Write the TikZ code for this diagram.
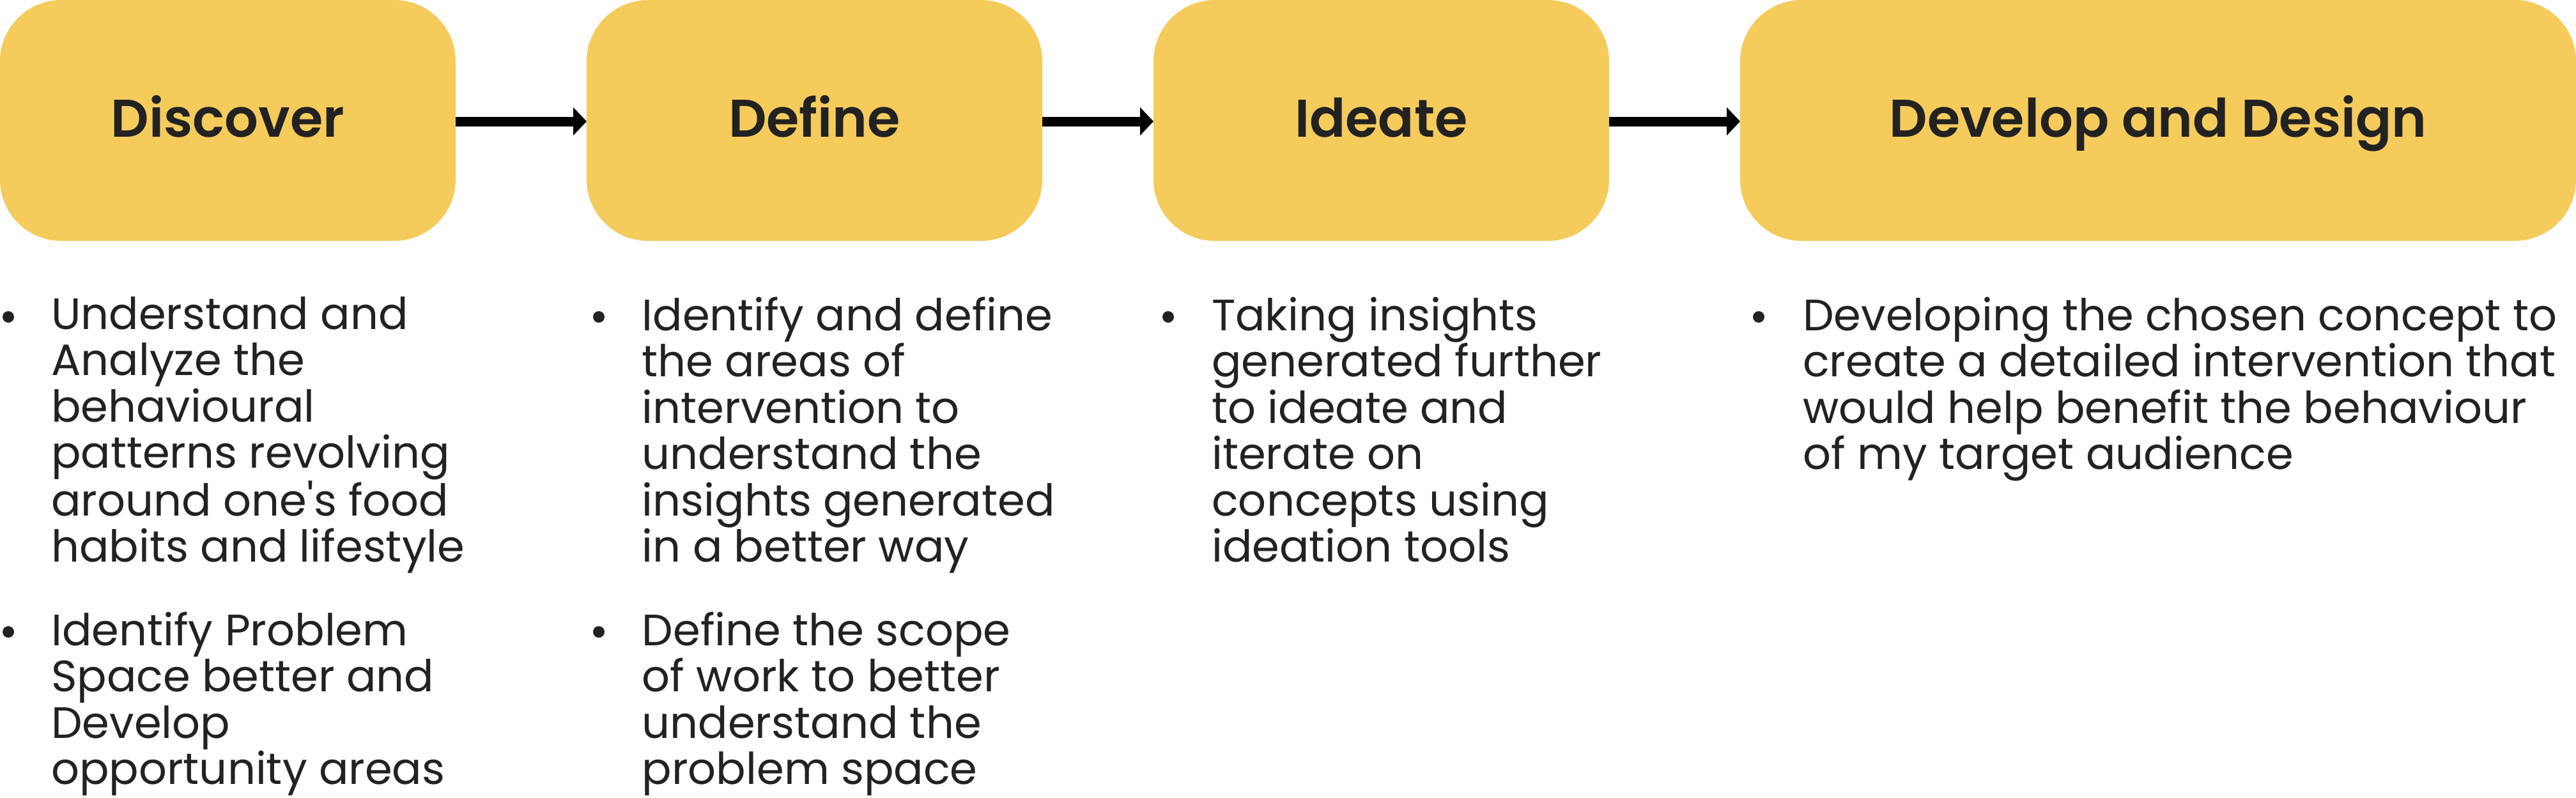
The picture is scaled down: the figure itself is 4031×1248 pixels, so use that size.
\documentclass[tikz,border=0pt]{standalone}
\usepackage{fontspec}
\newfontfamily\pop{Poppins}
\newfontfamily\popsemi{Poppins SemiBold}
\definecolor{boxyellow}{HTML}{F5CB5C}
\definecolor{ink}{HTML}{222222}
\usetikzlibrary{arrows.meta}
\begin{document}
\begin{tikzpicture}[x=1pt,y=-1pt,
  stagebox/.style={fill=boxyellow, draw=none, rounded corners=96pt, inner sep=0pt},
  stagetitle/.style={anchor=base, text=ink, font=\popsemi\fontsize{83}{100}\selectfont, inner sep=0pt},
  bodytext/.style={anchor=base west, align=left, text=ink, font=\pop\fontsize{68.8}{72.5}\selectfont, inner sep=0pt},
  dot/.style={circle, fill=ink, minimum size=18pt, inner sep=0pt},
  flow/.style={line width=15pt, -{Triangle[length=21pt,width=43pt]}, black}
]
\useasboundingbox (0,0) rectangle (4031,1248);
% boxes
\path[stagebox] (0,0) rectangle (713,377);
\path[stagebox] (918,0) rectangle (1631,377);
\path[stagebox] (1805,0) rectangle (2518,377);
\path[stagebox] (2723,0) rectangle (4031,377);
\coordinate (b1e) at (713,190);
\coordinate (b2w) at (918,190);
\coordinate (b2e) at (1631,190);
\coordinate (b3w) at (1805,190);
\coordinate (b3e) at (2518,190);
\coordinate (b4w) at (2723,190);
\node[stagetitle] (t1) at (356.5,214) {Discover};
\node[stagetitle] (t2) at (1274.5,214) {Define};
\node[stagetitle] (t3) at (2161.5,214) {Ideate};
\node[stagetitle] (t4) at (3377,214) {Develop and Design};
\draw[flow] (b1e) -- (b2w);
\draw[flow] (b2e) -- (b3w);
\draw[flow] (b3e) -- (b4w);
% bodies (base anchor = baseline of last line)
\node[bodytext] (d1) at (80,879.5) {Understand and\\Analyze the\\behavioural\\patterns revolving\\around one's food\\habits and lifestyle};
\node[bodytext] (d2) at (80,1227.5) {Identify Problem\\Space better and\\Develop\\opportunity areas};
\node[bodytext] (f1) at (1004.5,879.5) {Identify and define\\the areas of\\intervention to\\understand the\\insights generated\\in a better way};
\node[bodytext] (f2) at (1004.5,1227.5) {Define the scope\\of work to better\\understand the\\problem space};
\node[bodytext] (i1) at (1896,879.5) {Taking insights\\generated further\\to ideate and\\iterate on\\concepts using\\ideation tools};
\node[bodytext] (v1) at (2821,734.5) {Developing the chosen concept to\\create a detailed intervention that\\would help benefit the behaviour\\of my target audience};
\node[dot] (p1) at (13,496) {};
\node[dot] (p2) at (13,989) {};
\node[dot] (p3) at (937,496) {};
\node[dot] (p4) at (937,989) {};
\node[dot] (p5) at (1828,496) {};
\node[dot] (p6) at (2752,496) {};
\end{tikzpicture}
\end{document}
